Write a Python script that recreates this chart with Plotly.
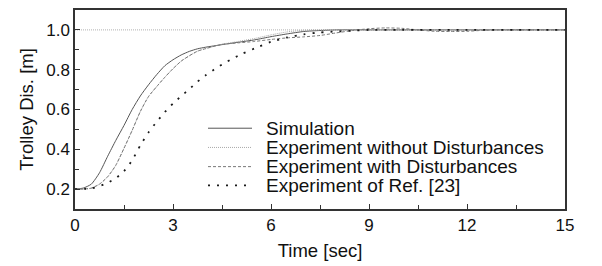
import plotly.graph_objects as go

# ---------------- data ----------------
time_sim = [0, 0.25, 0.5, 0.75, 1.0, 1.25, 1.5, 1.75, 2.0, 2.25, 2.5, 2.75, 3.0, 3.25, 3.5,
            3.75, 4.0, 4.5, 5.0, 5.5, 6.0, 6.5, 7.0, 7.5, 8.0, 9.0, 10.0, 11.0, 12.0, 13.0, 14.0, 15.0]
simulation = [0.200, 0.205, 0.225, 0.282, 0.365, 0.445, 0.520, 0.600, 0.668, 0.724, 0.775, 0.820,
              0.850, 0.874, 0.892, 0.905, 0.913, 0.926, 0.938, 0.950, 0.966, 0.980, 0.992, 0.997,
              1.000, 1.000, 1.000, 1.000, 1.000, 1.000, 1.000, 1.000]

time_exp = [0, 0.25, 0.5, 0.75, 1.0, 1.25, 1.5, 1.75, 2.0, 2.25, 2.5, 2.75, 3.0, 3.25, 3.5,
            3.75, 4.0, 4.25, 4.5, 5.0, 5.5, 6.0, 6.5, 7.0, 7.5, 8.0, 8.5, 9.0, 9.5, 10.0,
            10.5, 11.0, 11.5, 12.0, 12.5, 13.0, 14.0, 15.0]
exp_no_dist = [0.200, 0.200, 0.205, 0.225, 0.262, 0.320, 0.405, 0.495, 0.590, 0.665, 0.715, 0.762,
               0.805, 0.843, 0.870, 0.893, 0.906, 0.917, 0.928, 0.942, 0.957, 0.975, 0.990, 0.998,
               1.000, 1.000, 1.000, 1.000, 1.000, 1.000, 1.000, 1.000, 1.000, 1.000, 1.000, 1.000,
               1.000, 1.000]
exp_dist = [0.200, 0.200, 0.205, 0.225, 0.262, 0.320, 0.405, 0.495, 0.590, 0.665, 0.715, 0.762,
            0.805, 0.843, 0.870, 0.893, 0.906, 0.917, 0.927, 0.935, 0.942, 0.952, 0.960, 0.965,
            0.972, 0.985, 0.997, 1.006, 1.010, 1.008, 1.000, 0.993, 0.992, 0.993, 0.998, 1.000,
            1.000, 1.000]

time_ref = [0, 0.5, 0.75, 1.0, 1.25, 1.5, 1.75, 2.0, 2.25, 2.5, 2.75, 3.0, 3.25, 3.5, 3.75, 4.0,
            4.25, 4.5, 4.75, 5.0, 5.5, 6.0, 6.5, 7.0, 7.5, 8.0, 8.5, 9.0, 10.0, 12.0, 15.0]
exp_ref23 = [0.200, 0.203, 0.215, 0.232, 0.255, 0.290, 0.345, 0.420, 0.485, 0.538, 0.587, 0.630,
             0.667, 0.702, 0.740, 0.772, 0.800, 0.826, 0.849, 0.871, 0.907, 0.940, 0.962, 0.978,
             0.987, 0.992, 0.996, 1.000, 1.000, 1.000, 1.000]

setpoint_t = [0, 15]
setpoint = [1.0, 1.0]

series_names = ["Simulation", "Experiment without Disturbances",
                "Experiment with Disturbances", "Experiment of Ref. [23]"]

x_ticks = [0, 3, 6, 9, 12, 15]
y_ticks = [0.2, 0.4, 0.6, 0.8, 1.0]

# ---------------- styles ----------------
FONT = "Liberation Sans, Arial, sans-serif"
styles = [
    dict(color="#555555", width=1.0, dash="solid"),
    dict(color="#a8a8a8", width=1.0, dash="1px,1px"),
    dict(color="#777777", width=1.0, dash="3px,2px"),
    dict(color="#1a1a1a", width=1.8, dash="2px,7px"),
]

W, H = 602, 266
L, R, T, B = 75, 37, 8, 56
PW, PH = W - L - R, H - T - B

fig = go.Figure()
fig.add_trace(go.Scatter(x=setpoint_t, y=setpoint, mode="lines", showlegend=False,
                         line=dict(color="#b0b0b0", width=1, dash="1px,1px")))
datasets = [(time_sim, simulation), (time_exp, exp_no_dist), (time_exp, exp_dist), (time_ref, exp_ref23)]
for (tx, ty), name, st in zip(datasets, series_names, styles):
    fig.add_trace(go.Scatter(x=tx, y=ty, mode="lines", name=name, showlegend=False,
                             line=dict(color=st["color"], width=st["width"], dash=st["dash"],
                                       shape="spline", smoothing=0.6)))

# manual legend (tight row spacing like the reference)
def px2paper(px, py):
    return (px - L) / PW, (H - B - py) / PH

row_y = [128, 147.5, 167, 186]
shapes = []
annotations = []
for name, st, ry in zip(series_names, styles, row_y):
    x0, y0 = px2paper(208, ry)
    x1, _ = px2paper(252, ry)
    shapes.append(dict(type="line", xref="paper", yref="paper", x0=x0, x1=x1, y0=y0, y1=y0,
                       line=dict(color=st["color"], width=st["width"], dash=st["dash"])))
    tx, _ = px2paper(264, ry)
    annotations.append(dict(text=name, xref="paper", yref="paper", x=tx, y=y0,
                            xanchor="left", yanchor="middle", showarrow=False,
                            font=dict(family=FONT, size=19, color="#111")))

fig.update_layout(
    width=W, height=H,
    margin=dict(l=L, r=R, t=T, b=B),
    paper_bgcolor="white", plot_bgcolor="white",
    shapes=shapes, annotations=annotations,
    font=dict(family=FONT, color="#111"),
)
fig.update_xaxes(
    range=[0, 15], tickvals=x_ticks, ticktext=[str(v) for v in x_ticks],
    ticks="inside", ticklen=5, tickwidth=1, tickcolor="#333",
    minor=dict(dtick=1.5, ticks="inside", ticklen=4, tickcolor="#333", showgrid=False),
    showline=True, mirror=True, linecolor="#333", linewidth=1.5,
    showgrid=False, zeroline=False,
    tickfont=dict(size=17), title=dict(text="Time [sec]", font=dict(size=18.5), standoff=10),
)
fig.update_yaxes(
    range=[0.1, 1.1], tickvals=y_ticks, ticktext=[f"{v:.1f}" for v in y_ticks],
    ticks="inside", ticklen=5, tickwidth=1, tickcolor="#333",
    minor=dict(dtick=0.1, tick0=0, ticks="inside", ticklen=4, tickcolor="#333", showgrid=False),
    showline=True, mirror=True, linecolor="#333", linewidth=1.5,
    showgrid=False, zeroline=False,
    tickfont=dict(size=17), title=dict(text="Trolley Dis. [m]", font=dict(size=18.5), standoff=8),
)

fig.write_html("out.html", config={"displayModeBar": False},
               post_script="document.body.style.margin='0';document.body.style.overflow='hidden';")
